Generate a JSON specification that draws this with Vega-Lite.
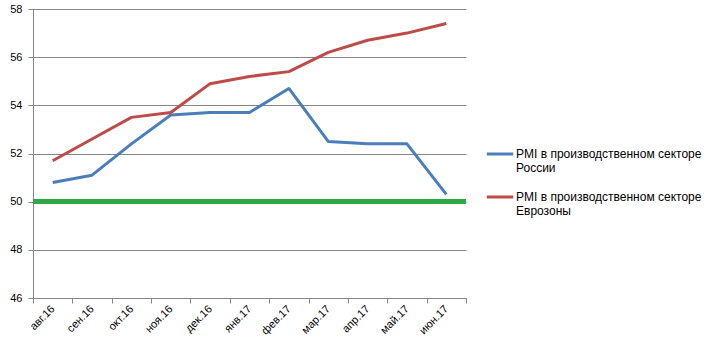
{
  "$schema": "https://vega.github.io/schema/vega-lite/v6.json",
  "width": 433,
  "height": 289,
  "autosize": {"type": "none"},
  "padding": {"left": 33, "top": 9, "right": 245, "bottom": 60},
  "background": "white",
  "config": {
    "view": {"stroke": null},
    "font": "Liberation Sans",
    "axis": {"labelFont": "Liberation Sans", "labelFontSize": 11, "labelColor": "#000000"},
    "legend": {"labelFont": "Liberation Sans", "labelFontSize": 12, "labelColor": "#000000"}
  },
  "data": {
    "values": [
      {"month": "авг.16", "series": "PMI в производственном секторе России", "value": 50.8},
      {"month": "сен.16", "series": "PMI в производственном секторе России", "value": 51.1},
      {"month": "окт.16", "series": "PMI в производственном секторе России", "value": 52.4},
      {"month": "ноя.16", "series": "PMI в производственном секторе России", "value": 53.6},
      {"month": "дек.16", "series": "PMI в производственном секторе России", "value": 53.7},
      {"month": "янв.17", "series": "PMI в производственном секторе России", "value": 53.7},
      {"month": "фев.17", "series": "PMI в производственном секторе России", "value": 54.7},
      {"month": "мар.17", "series": "PMI в производственном секторе России", "value": 52.5},
      {"month": "апр.17", "series": "PMI в производственном секторе России", "value": 52.4},
      {"month": "май.17", "series": "PMI в производственном секторе России", "value": 52.4},
      {"month": "июн.17", "series": "PMI в производственном секторе России", "value": 50.3},
      {"month": "авг.16", "series": "PMI в производственном секторе Еврозоны", "value": 51.7},
      {"month": "сен.16", "series": "PMI в производственном секторе Еврозоны", "value": 52.6},
      {"month": "окт.16", "series": "PMI в производственном секторе Еврозоны", "value": 53.5},
      {"month": "ноя.16", "series": "PMI в производственном секторе Еврозоны", "value": 53.7},
      {"month": "дек.16", "series": "PMI в производственном секторе Еврозоны", "value": 54.9},
      {"month": "янв.17", "series": "PMI в производственном секторе Еврозоны", "value": 55.2},
      {"month": "фев.17", "series": "PMI в производственном секторе Еврозоны", "value": 55.4},
      {"month": "мар.17", "series": "PMI в производственном секторе Еврозоны", "value": 56.2},
      {"month": "апр.17", "series": "PMI в производственном секторе Еврозоны", "value": 56.7},
      {"month": "май.17", "series": "PMI в производственном секторе Еврозоны", "value": 57.0},
      {"month": "июн.17", "series": "PMI в производственном секторе Еврозоны", "value": 57.4}
    ]
  },
  "layer": [
    {
      "mark": {"type": "line", "strokeWidth": 3, "strokeJoin": "round"},
      "encoding": {
        "x": {
          "field": "month", "type": "nominal", "sort": null, "bandPosition": 0.5,
          "scale": {"type": "band", "paddingInner": 0, "paddingOuter": 0},
          "axis": {
            "title": null, "tickBand": "extent", "tickSize": 5, "tickColor": "#868686",
            "domainColor": "#868686", "labelAngle": -45, "labelAlign": "right",
            "labelBaseline": "middle", "labelPadding": 4, "grid": false
          }
        },
        "y": {
          "field": "value", "type": "quantitative",
          "scale": {"domain": [46, 58], "nice": false, "zero": false},
          "axis": {
            "title": null, "values": [46, 48, 50, 52, 54, 56, 58], "grid": true,
            "gridColor": "#868686", "domainColor": "#868686", "tickColor": "#868686",
            "tickSize": 5, "labelPadding": 6
          }
        },
        "color": {
          "field": "series", "type": "nominal",
          "scale": {
            "domain": ["PMI в производственном секторе России", "PMI в производственном секторе Еврозоны"],
            "range": ["#4A7EBB", "#BE4B48"]
          },
          "legend": {
            "title": null, "orient": "none", "legendX": 452, "legendY": 130,
            "symbolType": "stroke", "symbolSize": 700, "symbolStrokeWidth": 3,
            "labelOffset": 1, "rowPadding": 8, "labelLimit": 300,
            "labelExpr": "[slice(datum.label, 0, 30), slice(datum.label, 31)]"
          }
        }
      }
    },
    {
      "mark": {"type": "rule", "color": "#2EA84A", "strokeWidth": 4},
      "encoding": {"y": {"datum": 50}}
    }
  ]
}
